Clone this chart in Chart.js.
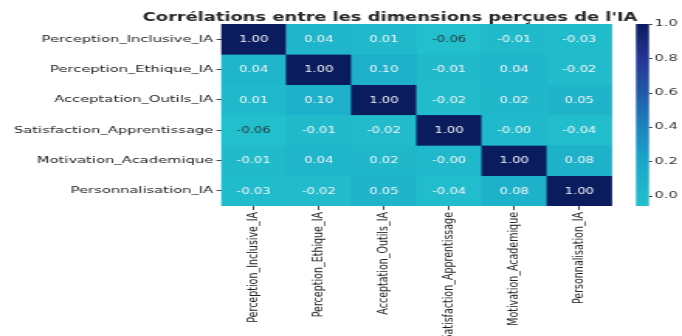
<!DOCTYPE html>
<html>
<head>
<meta charset="utf-8">
<script src="https://cdn.jsdelivr.net/npm/chart.js@4.4.1/dist/chart.umd.min.js"></script>
<style>
  html, body { margin: 0; padding: 0; background: #ffffff; overflow: hidden; }
  /* the reference picture is stretched horizontally; reproduce it with a CSS stretch */
  #wrap { width: 440px; height: 336px; transform: scale(1.55, 1); transform-origin: 0 0; }
</style>
</head>
<body>
<div id="wrap"><canvas id="c" width="440" height="336"></canvas></div>
<script>
// ---- data ----
const chartTitle = "Corrélations entre les dimensions perçues de l'IA";
const rowLabels = ["Perception_Inclusive_IA", "Perception_Ethique_IA", "Acceptation_Outils_IA",
                   "Satisfaction_Apprentissage", "Motivation_Academique", "Personnalisation_IA"];
const colLabels = ["Perception_Inclusive_IA", "Perception_Ethique_IA", "Acceptation_Outils_IA",
                   "Satisfaction_Apprentissage", "Motivation_Academique", "Personnalisation_IA"];
const rowPerceptionInclusive   = [1.00, 0.04, 0.01, -0.06, -0.01, -0.03];
const rowPerceptionEthique     = [0.04, 1.00, 0.10, -0.01, 0.04, -0.02];
const rowAcceptationOutils     = [0.01, 0.10, 1.00, -0.02, 0.02, 0.05];
const rowSatisfaction          = [-0.06, -0.01, -0.02, 1.00, -0.001, -0.04];
const rowMotivation            = [-0.01, 0.04, 0.02, -0.001, 1.00, 0.08];
const rowPersonnalisation      = [-0.03, -0.02, 0.05, -0.04, 0.08, 1.00];
const colorbarTicks = [0.0, 0.2, 0.4, 0.6, 0.8, 1.0];
const vMin = -0.06, vMax = 1.0;

const matrix = [rowPerceptionInclusive, rowPerceptionEthique, rowAcceptationOutils,
                rowSatisfaction, rowMotivation, rowPersonnalisation];

// ---- colour map (upper part of YlGnBu) ----
const stops = [
  [0.000, [34, 191, 204]],
  [0.245, [26, 166, 200]],
  [0.434, [29, 131, 189]],
  [0.623, [33, 89, 167]],
  [0.811, [37, 53, 148]],
  [1.000, [11, 28, 94]]
];
function cmap(v) {
  let t = (v - vMin) / (vMax - vMin);
  t = Math.max(0, Math.min(1, t));
  for (let i = 1; i < stops.length; i++) {
    if (t <= stops[i][0]) {
      const [t0, c0] = stops[i - 1], [t1, c1] = stops[i];
      const f = (t - t0) / (t1 - t0);
      const c = c0.map((a, k) => Math.round(a + (c1[k] - a) * f));
      return `rgb(${c[0]},${c[1]},${c[2]})`;
    }
  }
  const c = stops[stops.length - 1][1];
  return `rgb(${c[0]},${c[1]},${c[2]})`;
}

const datasets = matrix.map((row, i) => ({
  label: rowLabels[i],
  data: row.map(() => 1),
  values: row,
  backgroundColor: row.map(v => cmap(v)),
  borderColor: row.map(v => cmap(v)),
  borderWidth: 0.4,
  borderSkipped: false,
  barPercentage: 1,
  categoryPercentage: 1,
  yAxisID: 'y'
}));

const FONT = "'DejaVu Sans', sans-serif";

const heatPlugin = {
  id: 'heatExtras',
  afterDatasetsDraw(chart) {
    const ctx = chart.ctx;
    ctx.save();
    ctx.font = "8.5px " + FONT;
    ctx.textAlign = 'center';
    ctx.textBaseline = 'middle';
    chart.data.datasets.forEach((ds, i) => {
      const meta = chart.getDatasetMeta(i);
      meta.data.forEach((el, j) => {
        const v = ds.values[j];
        const cy = (el.y + el.base) / 2;
        ctx.fillStyle = v < -0.045 ? '#2b3a3f' : '#f2f5f7';
        ctx.fillText(v.toFixed(2), el.x, cy + 0.5);
      });
    });
    ctx.restore();
  },
  afterDraw(chart) {
    const ctx = chart.ctx;
    const cb = chart.scales.cb;
    const area = chart.chartArea;
    // title
    ctx.save();
    ctx.font = "bold 11.5px " + FONT;
    ctx.fillStyle = '#262626';
    ctx.textAlign = 'center';
    ctx.textBaseline = 'alphabetic';
    ctx.fillText(chartTitle, 251.6, 20.5);
    ctx.restore();
    // colour bar
    const x0 = area.right + 15.5, w = 8.4;
    const yTop = cb.getPixelForValue(vMax), yBot = cb.getPixelForValue(vMin);
    const g = ctx.createLinearGradient(0, yBot, 0, yTop);
    stops.forEach(([t, c]) => g.addColorStop(t, `rgb(${c[0]},${c[1]},${c[2]})`));
    ctx.save();
    ctx.fillStyle = g;
    ctx.fillRect(x0, yTop, w, yBot - yTop);
    ctx.strokeStyle = '#444';
    ctx.lineWidth = 1;
    cb.ticks.forEach(tk => {
      const y = Math.round(cb.getPixelForValue(tk.value)) + 0.5;
      ctx.beginPath();
      ctx.moveTo(x0 + w, y);
      ctx.lineTo(x0 + w + 2.2, y);
      ctx.stroke();
    });
    ctx.restore();
  }
};

new Chart(document.getElementById('c'), {
  type: 'bar',
  data: { labels: colLabels, datasets },
  plugins: [heatPlugin],
  options: {
    responsive: false,
    animation: false,
    events: [],
    layout: { padding: { top: 24, left: 0, right: 0, bottom: 0 } },
    plugins: { legend: { display: false }, tooltip: { enabled: false }, title: { display: false } },
    scales: {
      x: {
        type: 'category',
        stacked: true,
        offset: true,
        afterFit(scale) { scale.height = 130; scale.paddingLeft = 0; scale.paddingRight = 0; },
        grid: { display: true, offset: false, drawOnChartArea: false, drawTicks: true, tickLength: 4, color: '#444' },
        border: { display: false },
        ticks: {
          autoSkip: false, maxRotation: 90, minRotation: 90, padding: 2,
          color: '#222', font: { family: FONT, size: 9.5 }
        }
      },
      y: {
        type: 'linear',
        stacked: true,
        reverse: true,
        min: 0, max: 6,
        afterBuildTicks(scale) { scale.ticks = rowLabels.map((_, i) => ({ value: i + 0.5 })); },
        afterFit(scale) { scale.width = 142.6; scale.paddingTop = 0; scale.paddingBottom = 0; },
        grid: { display: true, drawOnChartArea: false, drawTicks: true, tickLength: 3, color: '#444' },
        border: { display: false },
        ticks: {
          autoSkip: false, padding: 2,
          color: '#222', font: { family: FONT, size: 9.5 },
          callback: (v, i) => rowLabels[i]
        }
      },
      cb: {
        type: 'linear',
        position: 'right',
        min: vMin, max: vMax,
        afterBuildTicks(scale) { scale.ticks = colorbarTicks.map(v => ({ value: v })); },
        afterFit(scale) { scale.width = 45.2; scale.paddingTop = 0; scale.paddingBottom = 0; },
        grid: { display: false, drawTicks: false },
        border: { display: false },
        ticks: {
          padding: 27.5, color: '#333', font: { family: FONT, size: 9.5 },
          callback: v => v.toFixed(1)
        }
      }
    }
  }
});
</script>
</body>
</html>
